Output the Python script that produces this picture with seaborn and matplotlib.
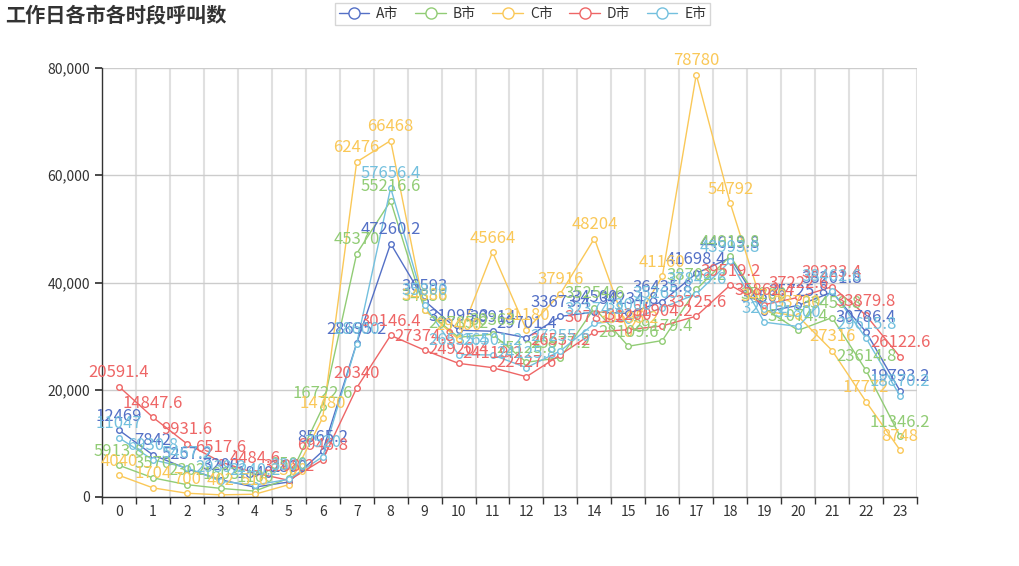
import numpy as np
import pandas as pd
import seaborn as sns
import matplotlib
matplotlib.use('Agg')
import matplotlib.pyplot as plt

# data
hours = list(range(24))
cities = ['A市', 'B市', 'C市', 'D市', 'E市']
city_a = [12469, 7842, 5257.2, 3200, 1840, 2800, 8565.2, 28695.2, 47260.2, 36593, 31095.3, 30914,
          29701.4, 33673.4, 34500, 34234.8, 36435.8, 41698.4, 44619.8, 34500, 35725.8, 38201.8, 30786.4, 19793.2]
city_b = [5913.8, 3570, 2302, 1603, 1100, 3500, 16722.6, 45370, 55216.6, 34856, 29785.2, 30363,
          25125.8, 25977.2, 35254.6, 28109.6, 29179.4, 38702.2, 44919.8, 35200, 31074.4, 33459.8, 23614.8, 11346.2]
city_c = [4040, 1704, 700, 402, 516, 2300, 14780, 62476, 66468, 34886, 29400, 45664,
          31180, 37916, 48204, 30595.2, 41160, 78780, 54792, 34700, 33700, 27316, 17772, 8748]
city_d = [20591.4, 14847.6, 9931.6, 6517.6, 4484.6, 3108.2, 6946.8, 20340, 30146.4, 27374.8, 24920.4, 24119.2,
          22427.6, 26537.2, 30781.2, 31200, 31904.2, 33725.6, 39519.2, 35862.4, 37222.6, 39223.4, 33879.8, 26122.6]
city_e = [11047, 6930.8, 5467.2, 2939.2, 2240.2, 3300, 7520, 28600, 57656.4, 35800, 26535.4, 26501.2,
          24125.8, 27255.6, 32374.8, 33000, 35265.8, 37849.6, 43993.8, 32602, 31800, 38462.6, 29615.8, 18870.2]
colors = ['#5470c6', '#91cc75', '#fac858', '#ee6666', '#73c0de']

df = pd.DataFrame({'hour': hours * 5,
                   'city': np.repeat(cities, 24),
                   'calls': city_a + city_b + city_c + city_d + city_e})

sns.set_theme(style='white')
plt.rcParams['font.family'] = ['Noto Sans CJK SC', 'DejaVu Sans']

fig = plt.figure(figsize=(10.19, 5.66), dpi=100)
ax = fig.add_axes([102 / 1019, 1 - 497 / 566, (917 - 102) / 1019, (497 - 68) / 566])

palette = dict(zip(cities, colors))
for city in cities:
    sub = df[df['city'] == city]
    sns.lineplot(data=sub, x='hour', y='calls', ax=ax, color=palette[city], lw=1,
                 marker='o', markersize=4, markerfacecolor='white',
                 markeredgecolor=palette[city], markeredgewidth=1, label=city)
    for h, v in zip(sub['hour'], sub['calls']):
        txt = str(int(v)) if float(v).is_integer() else '{:.1f}'.format(v)
        ax.annotate(txt, (h, v), xytext=(0, 4), textcoords='offset points',
                    ha='center', va='bottom', fontsize=12, color=palette[city])

ax.set_xlim(-0.5, 23.5)
ax.set_ylim(0, 80000)
ax.set_xticks(hours)
ax.set_xticklabels([str(h) for h in hours])
ax.set_xticks(np.arange(-0.5, 24, 1), minor=True)
ax.set_yticks([0, 20000, 40000, 60000, 80000])
ax.set_yticklabels(['0', '20,000', '40,000', '60,000', '80,000'])
ax.tick_params(axis='x', which='major', length=0, labelsize=10, colors='#333333', pad=6)
ax.tick_params(axis='x', which='minor', length=5, color='#333333', bottom=True)
ax.tick_params(axis='y', length=5, left=True, color='#333333', labelsize=10, labelcolor='#333333')
ax.grid(axis='y', color='#cccccc', lw=1)
ax.grid(axis='x', which='minor', color='#e0e0e0', lw=1.5)
ax.set_axisbelow(True)
for side in ['top', 'right']:
    ax.spines[side].set_visible(False)
for side in ['left', 'bottom']:
    ax.spines[side].set_color('#333333')
    ax.spines[side].set_linewidth(1)
ax.set_xlabel('')
ax.set_ylabel('')

leg = ax.legend(loc='upper center', bbox_to_anchor=(0.516, 1.168), ncol=5, frameon=True,
                fontsize=10, handlelength=2.2, columnspacing=1.2, handletextpad=0.5,
                borderpad=0.3, fancybox=False, markerscale=2)
leg.get_frame().set_edgecolor('#cccccc')
for t in leg.get_texts():
    t.set_color('#333333')

fig.text(5 / 1019, 1 - 15 / 566, '工作日各市各时段呼叫数', fontsize=14.5, fontweight='bold',
         color='#333333', ha='left', va='center')

fig.savefig('out.png', dpi=100, facecolor='white')
plt.close(fig)
